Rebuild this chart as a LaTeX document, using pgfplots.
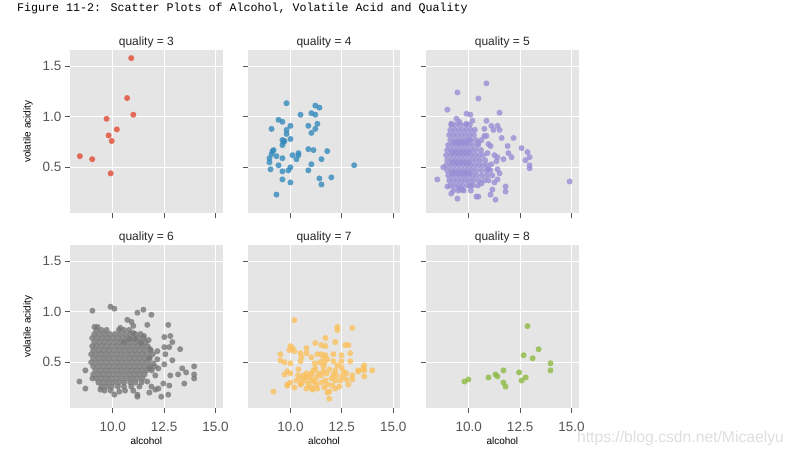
\documentclass[border=0pt]{standalone}
\usepackage{pgfplots}
\pgfplotsset{compat=1.18}
\usepackage{fontspec}
\setmainfont{Liberation Sans}
\newfontfamily\monofont{Liberation Mono}
\definecolor{bggray}{HTML}{E5E5E5}
\definecolor{tickgray}{HTML}{555555}
\definecolor{cthree}{HTML}{E24A33}
\definecolor{cfour}{HTML}{348ABD}
\definecolor{cfive}{HTML}{988ED5}
\definecolor{csix}{HTML}{777777}
\definecolor{cseven}{HTML}{FBC15E}
\definecolor{ceight}{HTML}{8EBA42}
\pgfplotsset{
  panel/.style={
    scale only axis, width=152.7pt, height=163.3pt,
    anchor=north west,
    xmin=7.92, xmax=15.35, ymin=0.045, ymax=1.66,
    axis background/.style={fill=bggray},
    axis line style={draw=none},
    xmajorgrids, ymajorgrids,
    major grid style={white, line width=0.9pt},
    xtick={10,12.5,15}, ytick={0.5,1.0,1.5},
    tick align=outside, tick pos=left,
    major tick length=5pt,
    every tick/.style={tickgray, line width=0.8pt},
    /pgf/number format/fixed,
    /pgf/number format/fixed zerofill,
    /pgf/number format/precision=1,
    /pgf/number format/assume math mode=true,
    ticklabel style={font=\fontsize{13.5}{16}\selectfont, text=tickgray},
    xticklabel style={yshift=-5pt},
    title style={font=\fontsize{12}{14}\selectfont, text=black!85, at={(axis description cs:0.5,1)}, anchor=center, yshift=1.5pt},
    label style={font=\fontsize{11.5}{13}\selectfont, text=tickgray},
    every axis y label/.style={at={([xshift=-42pt]axis description cs:0,0.5)}, rotate=90, anchor=center},
    every axis x label/.style={at={([yshift=-33pt]axis description cs:0.5,0)}, anchor=center},
    only marks,
  },
  noxl/.style={xticklabels={{},{},{}}},
  noyl/.style={yticklabels={{},{},{}}},
  pts/.style={color=#1, mark=*, mark size=3pt, mark options={solid, fill=#1, draw opacity=0, fill opacity=0.8}},
}
\begin{document}
\begin{tikzpicture}
\path[use as bounding box] (0pt,0pt) rectangle (793pt,-456pt);
\node[anchor=west, font=\monofont\fontsize{11.67}{13}\selectfont, inner sep=0pt] at (17pt,-8.3pt) {Figure 11-2: Scatter Plots of Alcohol, Volatile Acid and Quality};

% quality 3
\begin{axis}[panel, noxl, at={(70pt,-50pt)}, title={quality = 3}, ylabel={volatile acidity}]
\addplot[pts=cthree] table {
9.0 0.58
10.7 1.185
9.9 0.44
9.8 0.815
8.4 0.61
11.0 1.02
9.7 0.98
10.2 0.875
9.95 0.76
10.9 1.58
};
\end{axis}

% quality 4
\begin{axis}[panel, noxl, noyl, at={(247.7pt,-50pt)}, title={quality = 4}]
\addplot[pts=cfour] table {
9.81 1.134
11.21 1.11
11.41 1.09
10.49 1.02
11.02 1.035
11.21 1.02
9.42 0.97
9.61 0.95
9.08 0.88
10.0 0.91
9.81 0.87
9.81 0.83
10.87 0.91
11.31 0.93
11.21 0.88
11.02 0.84
9.61 0.77
9.71 0.76
9.66 0.75
10.0 0.78
9.61 0.72
9.18 0.67
9.13 0.66
9.08 0.63
8.98 0.59
8.98 0.55
9.03 0.48
9.32 0.61
9.61 0.59
9.42 0.52
9.61 0.46
10.0 0.50
9.9 0.47
9.61 0.38
10.0 0.35
9.32 0.23
10.10 0.62
10.29 0.58
10.39 0.64
10.39 0.62
10.87 0.68
11.12 0.67
11.79 0.66
11.51 0.58
11.02 0.53
10.87 0.47
11.41 0.39
11.51 0.33
11.99 0.40
13.1 0.52
};
\end{axis}

% quality 5
\begin{axis}[panel, noxl, noyl, at={(426pt,-50pt)}, title={quality = 5}]
\addplot[pts=cfive] table {
10.86 1.33
9.45 1.24
10.47 1.18
8.96 1.07
11.5 1.04
9.89 1.03
10.08 1.02
9.40 0.98
9.54 0.95
10.18 0.96
10.86 0.96
9.15 0.93
9.89 0.93
11.1 0.91
11.4 0.91
10.76 0.88
11.2 0.87
11.5 0.87
10.76 0.81
11.6 0.79
12.18 0.79
10.47 0.74
10.96 0.73
11.89 0.71
12.57 0.69
12.86 0.65
11.93 0.64
10.91 0.64
12.08 0.60
11.69 0.58
12.96 0.60
12.76 0.57
11.35 0.56
12.96 0.52
12.96 0.49
14.91 0.36
8.76 0.50
8.47 0.38
11.4 0.48
11.5 0.44
11.4 0.38
11.79 0.31
11.79 0.26
11.15 0.28
11.06 0.23
11.3 0.18
9.45 0.19
9.15 0.24
10.37 0.21
10.47 0.21
10.08 0.32
10.62 0.34
10.96 0.37
11.15 0.42
11.25 0.35
10.96 0.48
11.1 0.53
11.4 0.60
11.25 0.62
11.06 0.71
10.86 0.81
10.62 0.77
10.03 0.77
9.54 0.29
9.69 0.28
8.96 0.31
9.15 0.92
9.35 0.92
9.6 0.92
9.85 0.92
10.05 0.92
9.1 0.87
9.3 0.87
9.5 0.87
9.7 0.87
9.9 0.87
10.1 0.87
10.3 0.87
9.05 0.82
9.25 0.82
9.45 0.82
9.65 0.82
9.85 0.82
10.05 0.82
10.25 0.82
9.1 0.77
9.3 0.77
9.5 0.77
9.7 0.77
9.9 0.77
10.1 0.77
10.35 0.77
9.0 0.72
9.2 0.72
9.4 0.72
9.6 0.72
9.8 0.72
10.0 0.72
10.2 0.72
10.45 0.72
8.95 0.67
9.15 0.67
9.35 0.67
9.55 0.67
9.75 0.67
9.95 0.67
10.15 0.67
10.35 0.67
10.6 0.67
8.9 0.62
9.1 0.62
9.3 0.62
9.5 0.62
9.7 0.62
9.9 0.62
10.1 0.62
10.3 0.62
10.5 0.62
10.7 0.62
8.95 0.57
9.15 0.57
9.35 0.57
9.55 0.57
9.75 0.57
9.95 0.57
10.15 0.57
10.35 0.57
10.55 0.57
10.8 0.57
8.9 0.52
9.1 0.52
9.3 0.52
9.5 0.52
9.7 0.52
9.9 0.52
10.1 0.52
10.3 0.52
10.5 0.52
10.7 0.52
10.9 0.52
8.95 0.47
9.15 0.47
9.35 0.47
9.55 0.47
9.75 0.47
9.95 0.47
10.15 0.47
10.35 0.47
10.6 0.47
10.85 0.47
11.05 0.47
9.0 0.42
9.2 0.42
9.4 0.42
9.6 0.42
9.8 0.42
10.0 0.42
10.2 0.42
10.4 0.42
10.65 0.42
10.9 0.42
9.05 0.37
9.25 0.37
9.45 0.37
9.65 0.37
9.85 0.37
10.05 0.37
10.25 0.37
10.5 0.37
10.75 0.37
9.1 0.32
9.3 0.32
9.5 0.32
9.7 0.32
9.95 0.32
10.2 0.32
10.45 0.32
9.25 0.27
9.5 0.27
9.75 0.27
10.1 0.27
9.2 0.645
9.4 0.645
9.6 0.645
9.8 0.645
10.0 0.645
9.2 0.545
9.4 0.545
9.6 0.545
9.8 0.545
10.0 0.545
9.2 0.445
9.4 0.445
9.6 0.445
9.8 0.445
10.0 0.445
9.3 0.745
9.5 0.745
9.7 0.745
9.9 0.745
};
\end{axis}

% quality 6
\begin{axis}[panel, at={(70pt,-245pt)}, title={quality = 6}, ylabel={volatile acidity}, xlabel={alcohol}]
\addplot[pts=csix] table {
9.89 1.05
10.08 1.03
9.01 1.01
11.49 1.02
11.2 0.99
11.88 0.97
10.71 0.92
10.91 0.90
11.68 0.87
12.70 0.87
9.11 0.85
9.26 0.85
10.37 0.84
11.0 0.86
12.51 0.75
12.8 0.76
12.9 0.70
12.75 0.65
12.51 0.65
13.28 0.63
12.17 0.61
12.56 0.58
12.9 0.52
13.96 0.46
13.38 0.44
13.57 0.40
13.18 0.38
13.96 0.38
13.96 0.34
13.48 0.29
12.8 0.37
12.75 0.27
12.70 0.18
12.36 0.16
12.07 0.23
11.78 0.20
11.2 0.18
11.2 0.16
10.08 0.18
10.32 0.21
9.4 0.23
8.67 0.24
8.38 0.31
8.67 0.42
9.01 0.34
12.22 0.24
12.46 0.29
11.88 0.26
11.68 0.31
12.07 0.37
12.22 0.44
11.81 0.44
11.97 0.49
11.78 0.54
12.17 0.53
12.51 0.48
11.81 0.63
11.75 0.72
11.52 0.76
11.39 0.69
11.1 0.73
10.81 0.73
10.52 0.70
11.0 0.79
9.2 0.82
9.45 0.82
9.7 0.82
10.3 0.82
10.55 0.82
10.8 0.82
9.1 0.78
9.35 0.78
9.6 0.78
9.85 0.78
10.1 0.78
10.35 0.78
10.6 0.78
10.85 0.78
11.1 0.78
11.35 0.78
9.0 0.74
9.25 0.74
9.5 0.74
9.75 0.74
10.0 0.74
10.25 0.74
10.5 0.74
10.75 0.74
11.0 0.74
11.25 0.74
11.5 0.74
9.1 0.70
9.35 0.70
9.6 0.70
9.85 0.70
10.1 0.70
10.35 0.70
10.6 0.70
10.85 0.70
11.1 0.70
11.35 0.70
11.6 0.70
9.0 0.66
9.2 0.66
9.45 0.66
9.7 0.66
9.95 0.66
10.2 0.66
10.45 0.66
10.7 0.66
10.95 0.66
11.2 0.66
11.45 0.66
11.7 0.66
9.05 0.62
9.3 0.62
9.55 0.62
9.8 0.62
10.05 0.62
10.3 0.62
10.55 0.62
10.8 0.62
11.05 0.62
11.3 0.62
11.55 0.62
11.85 0.62
8.95 0.58
9.2 0.58
9.45 0.58
9.7 0.58
9.95 0.58
10.2 0.58
10.45 0.58
10.7 0.58
10.95 0.58
11.2 0.58
11.45 0.58
11.7 0.58
11.95 0.58
9.05 0.54
9.3 0.54
9.55 0.54
9.8 0.54
10.05 0.54
10.3 0.54
10.55 0.54
10.8 0.54
11.05 0.54
11.3 0.54
11.55 0.54
11.8 0.54
8.95 0.50
9.2 0.50
9.45 0.50
9.7 0.50
9.95 0.50
10.2 0.50
10.45 0.50
10.7 0.50
10.95 0.50
11.2 0.50
11.45 0.50
11.7 0.50
9.05 0.46
9.3 0.46
9.55 0.46
9.8 0.46
10.05 0.46
10.3 0.46
10.55 0.46
10.8 0.46
11.05 0.46
11.3 0.46
11.55 0.46
11.8 0.46
12.05 0.46
9.15 0.42
9.4 0.42
9.65 0.42
9.9 0.42
10.15 0.42
10.4 0.42
10.65 0.42
10.9 0.42
11.15 0.42
11.4 0.42
11.65 0.42
11.9 0.42
9.05 0.38
9.3 0.38
9.55 0.38
9.8 0.38
10.05 0.38
10.3 0.38
10.55 0.38
10.8 0.38
11.05 0.38
11.3 0.38
11.55 0.38
9.2 0.34
9.45 0.34
9.7 0.34
9.95 0.34
10.2 0.34
10.45 0.34
10.7 0.34
10.95 0.34
11.2 0.34
11.45 0.34
9.3 0.30
9.55 0.30
9.8 0.30
10.05 0.30
10.3 0.30
10.55 0.30
10.85 0.30
11.1 0.30
11.4 0.30
9.45 0.26
9.7 0.26
9.95 0.26
10.25 0.26
10.55 0.26
10.9 0.26
11.3 0.26
9.6 0.22
9.9 0.22
10.6 0.22
11.0 0.22
};
\end{axis}

% quality 7
\begin{axis}[panel, noyl, at={(247.7pt,-245pt)}, title={quality = 7}, xlabel={alcohol}]
\addplot[pts=cseven] table {
10.19 0.917
12.28 0.85
12.28 0.82
13.01 0.84
11.70 0.74
12.18 0.70
11.21 0.69
11.5 0.67
11.7 0.66
12.67 0.67
12.82 0.67
10.0 0.66
10.1 0.64
9.95 0.62
10.19 0.61
10.78 0.64
10.78 0.59
10.49 0.59
9.51 0.58
10.53 0.55
11.02 0.55
11.31 0.58
11.5 0.58
11.7 0.57
11.6 0.54
11.8 0.53
12.48 0.57
12.91 0.59
9.51 0.52
9.71 0.50
10.49 0.51
10.0 0.49
11.17 0.49
12.09 0.51
12.48 0.51
12.91 0.51
13.59 0.47
13.54 0.44
13.3 0.41
13.59 0.42
13.98 0.42
13.59 0.36
13.01 0.37
12.72 0.39
12.57 0.41
12.18 0.42
11.89 0.43
11.6 0.41
11.21 0.44
10.39 0.43
9.85 0.41
9.71 0.38
10.0 0.39
10.78 0.39
11.02 0.39
10.29 0.32
10.0 0.30
9.85 0.28
10.19 0.25
10.53 0.29
10.53 0.34
10.78 0.35
11.02 0.32
11.26 0.35
11.5 0.37
11.75 0.39
11.99 0.34
12.23 0.37
12.43 0.32
12.72 0.33
12.82 0.28
12.38 0.26
12.04 0.27
11.8 0.28
11.5 0.30
11.26 0.28
11.02 0.25
10.78 0.24
10.49 0.28
10.87 0.28
11.07 0.23
11.31 0.24
11.89 0.21
11.8 0.20
11.89 0.14
9.17 0.21
9.85 0.27
11.7 0.32
10.73 0.32
12.18 0.32
12.52 0.36
11.36 0.39
11.12 0.42
10.63 0.37
10.37 0.37
12.09 0.38
12.28 0.47
12.48 0.45
11.6 0.46
11.41 0.50
12.09 0.58
11.65 0.49
10.97 0.36
11.17 0.31
11.65 0.25
12.18 0.24
13.01 0.33
13.3 0.42
};
\end{axis}

% quality 8
\begin{axis}[panel, noyl, at={(426pt,-245pt)}, title={quality = 8}, xlabel={alcohol}]
\addplot[pts=ceight] table {
12.86 0.858
13.4 0.629
12.67 0.57
13.11 0.54
13.98 0.49
13.98 0.42
11.69 0.42
12.45 0.40
11.3 0.38
11.4 0.36
10.96 0.35
12.77 0.35
9.98 0.33
9.79 0.31
12.57 0.32
11.69 0.30
11.79 0.26
};
\end{axis}

\node[anchor=center, font=\fontsize{15.7}{18}\selectfont, text=black!13] at (680.5pt,-438.3pt) {https://blog.csdn.net/Micaelyu};
\end{tikzpicture}
\end{document}
